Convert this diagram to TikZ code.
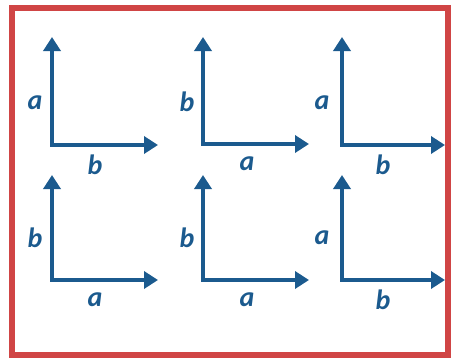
\documentclass[tikz,border=0pt]{standalone}
\usepackage{fontspec}
\setmainfont{Carlito}
\usetikzlibrary{arrows.meta}
\definecolor{axblue}{HTML}{1B5A8E}
\definecolor{frred}{HTML}{D04545}
\begin{document}
\begin{tikzpicture}[x=1pt,y=-1pt,
  axis/.style={draw=axblue,line width=4pt,{Triangle[length=14pt,width=17pt]}-{Triangle[length=14pt,width=17pt]},line join=miter},
  lbl/.style={text=axblue,font=\fontsize{28}{28}\selectfont\bfseries\itshape,inner sep=0pt}]
\useasboundingbox (0,0) rectangle (452,359);
\draw[frred,line width=6pt] (12,8) rectangle (448,355);
\foreach \cx/\cy/\tipy/\endx/\lv/\lh/\vx/\hx/\n in {52/145/37/158/a/b/35/95/A, 203/144/37/309/b/a/187/247/B, 342/145/37/445/a/b/322/383/C, 52/280/175/158/b/a/35/95/D, 203/280/175/309/b/a/187/247/E, 342/280/175/445/a/b/322/383/F}{
  \coordinate (o\n) at (\cx,\cy);
  \coordinate (t\n) at (\cx,\tipy);
  \coordinate (e\n) at (\endx,\cy);
  \draw[axis] (t\n) -- (o\n) -- (e\n);
  \node[lbl] (v\n) at (\vx,\cy-42) {\lv};
  \node[lbl] (h\n) at (\hx,\cy+20) {\lh};
}
\end{tikzpicture}
\end{document}
